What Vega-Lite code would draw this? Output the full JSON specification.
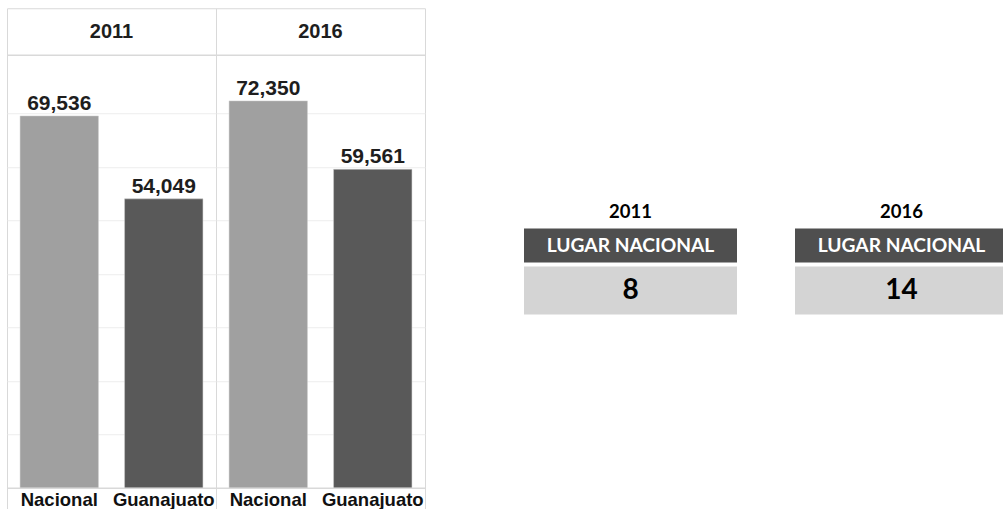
{
  "$schema": "https://vega.github.io/schema/vega-lite/v6.json",
  "padding": {"left": 5, "top": 7, "right": 0, "bottom": 0},
  "background": "white",
  "config": {"view": {"stroke": "#d9d9d9", "strokeWidth": 1}},
  "datasets": {
    "ingreso": [
      {"year": "2011", "region": "Nacional", "value": 69536},
      {"year": "2011", "region": "Guanajuato", "value": 54049},
      {"year": "2016", "region": "Nacional", "value": 72350},
      {"year": "2016", "region": "Guanajuato", "value": 59561}
    ],
    "lugar": [
      {"year": "2011", "rank": 8},
      {"year": "2016", "rank": 14}
    ]
  },
  "hconcat": [
    {
      "data": {"name": "ingreso"},
      "facet": {"column": {"field": "year", "type": "nominal", "header": null}},
      "spacing": 0,
      "bounds": "flush",
      "spec": {
        "width": 209,
        "height": 526,
        "encoding": {
          "y": {
            "type": "quantitative",
            "scale": {"domain": [-8592, 89650], "nice": false, "zero": false},
            "axis": {"grid": true, "values": [10000, 20000, 30000, 40000, 50000, 60000, 70000], "labels": false, "ticks": false, "domain": false, "title": null, "gridColor": "#ededed", "minExtent": 0, "maxExtent": 0}
          }
        },
        "layer": [
          {
            "mark": {"type": "bar", "stroke": "#cfcfcf", "strokeWidth": 0.5},
            "encoding": {
              "x": {"field": "region", "type": "nominal", "sort": ["Nacional", "Guanajuato"], "scale": {"paddingInner": 0.25, "paddingOuter": 0.125}, "axis": null},
              "y": {"field": "value", "type": "quantitative"},
              "color": {"field": "region", "type": "nominal", "scale": {"domain": ["Nacional", "Guanajuato"], "range": ["#a0a0a0", "#595959"]}, "legend": null}
            }
          },
          {
            "mark": {"type": "text", "font": "Liberation Sans", "fontWeight": "bold", "fontSize": 21, "color": "#1e1e1e", "baseline": "alphabetic", "dy": -6},
            "encoding": {
              "x": {"field": "region", "type": "nominal", "sort": ["Nacional", "Guanajuato"]},
              "y": {"field": "value", "type": "quantitative"},
              "text": {"field": "value", "type": "quantitative", "format": ",d"}
            }
          },
          {
            "mark": {"type": "text", "font": "Liberation Sans", "fontWeight": "bold", "fontSize": 18.5, "color": "#111111", "baseline": "alphabetic"},
            "encoding": {
              "x": {"field": "region", "type": "nominal", "sort": ["Nacional", "Guanajuato"]},
              "y": {"datum": -3350, "type": "quantitative"},
              "text": {"field": "region", "type": "nominal"}
            }
          },
          {
            "transform": [{"filter": "datum.region === 'Nacional'"}],
            "mark": {"type": "text", "font": "Liberation Sans", "fontWeight": "bold", "fontSize": 20, "color": "#1e1e1e", "baseline": "middle"},
            "encoding": {
              "y": {"datum": 85170, "type": "quantitative"},
              "text": {"field": "year", "type": "nominal"}
            }
          },
          {
            "transform": [{"filter": "datum.region === 'Nacional'"}],
            "mark": {"type": "rule", "color": "#d9d9d9", "strokeWidth": 1.5},
            "encoding": {"y": {"datum": 80870, "type": "quantitative"}}
          },
          {
            "transform": [{"filter": "datum.region === 'Nacional'"}],
            "mark": {"type": "rule", "color": "#d9d9d9", "strokeWidth": 1.5},
            "encoding": {"y": {"datum": 0, "type": "quantitative"}}
          }
        ]
      }
    },
    {
      "vconcat": [
        {
          "data": {"name": "lugar"},
          "facet": {"column": {"field": "year", "type": "nominal", "header": {"title": null, "labelFont": "Lato", "labelFontWeight": "bold", "labelFontSize": 18.5, "labelColor": "#000000", "labelPadding": 7}}},
          "spacing": 58,
          "spec": {
            "width": 213,
            "height": 34,
            "view": {"fill": "#4f4f4f", "stroke": null},
            "mark": {"type": "text", "font": "Lato", "fontWeight": "bold", "fontSize": 19.2, "color": "white", "baseline": "middle"},
            "encoding": {"text": {"value": "LUGAR NACIONAL"}}
          }
        },
        {
          "data": {"name": "lugar"},
          "facet": {"column": {"field": "year", "type": "nominal", "header": null}},
          "spacing": 58,
          "spec": {
            "width": 213,
            "height": 48,
            "view": {"fill": "#d4d4d4", "stroke": null},
            "mark": {"type": "text", "font": "Lato", "fontWeight": "bold", "fontSize": 28, "color": "#000000", "baseline": "middle"},
            "encoding": {"text": {"field": "rank", "type": "quantitative"}}
          }
        }
      ],
      "spacing": 4
    }
  ],
  "spacing": 97,
  "center": true
}
